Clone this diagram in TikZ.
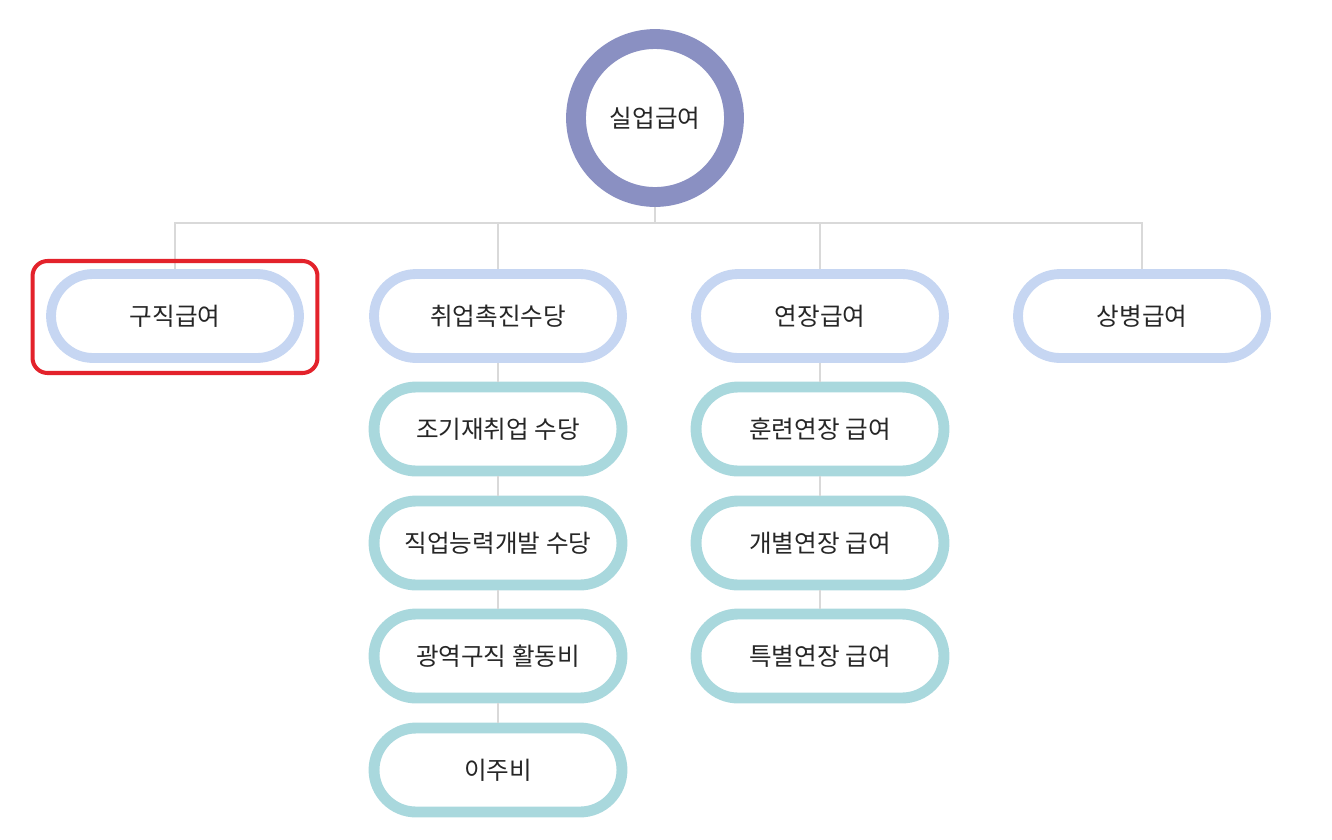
\documentclass[tikz,border=0pt]{standalone}
\usepackage{fontspec}
\setmainfont{Noto Sans CJK KR}
\usepackage{tikz}

\definecolor{ringblue}{HTML}{8A90C2}
\definecolor{topline}{HTML}{C6D6F2}
\definecolor{subline}{HTML}{A9D8DD}
\definecolor{linkgray}{HTML}{D9D9D9}
\definecolor{marked}{HTML}{E3222B}
\definecolor{txt}{HTML}{262626}

\tikzset{
    topbox/.style={draw=topline, line width=5.6pt, fill=white, rectangle,
        rounded corners=0.84cm, minimum width=4.96cm, minimum height=1.68cm,
        text=txt, font=\fontsize{14}{16}\selectfont},
    subbox/.style={topbox, draw=subline, line width=6.2pt},
    link/.style={draw=linkgray, line width=0.8pt}
}

\begin{document}
\begin{tikzpicture}[x=0.02cm, y=-0.02cm]
    \useasboundingbox (0,0) rectangle (1332,839);

    \node [circle, draw=ringblue, line width=11.3pt, fill=white,
           minimum size=3.16cm, text=txt, font=\fontsize{14}{16}\selectfont]
           (silup) at (655,118) {실업급여};

    \coordinate (hub) at (655,223);

    \node [topbox] (gujik) at (175,316) {구직급여};
    \node [topbox] (chwiup) at (498,316) {취업촉진수당};
    \node [topbox] (yeonjang) at (820,316) {연장급여};
    \node [topbox] (sangbyeong) at (1142,316) {상병급여};

    \node [subbox] (jogi) at (498,429) {조기재취업 수당};
    \node [subbox] (jikup) at (498,543) {직업능력개발 수당};
    \node [subbox] (gwangyeok) at (498,656) {광역구직 활동비};
    \node [subbox] (iju) at (498,770) {이주비};

    \node [subbox] (hunryeon) at (820,429) {훈련연장 급여};
    \node [subbox] (gaebyeol) at (820,543) {개별연장 급여};
    \node [subbox] (teukbyeol) at (820,656) {특별연장 급여};

    \draw [link] (silup) -- (hub);
    \draw [link] (gujik.north) |- (hub);
    \draw [link] (chwiup.north) |- (hub);
    \draw [link] (yeonjang.north) |- (hub);
    \draw [link] (sangbyeong.north) |- (hub);

    \draw [link] (chwiup) -- (jogi);
    \draw [link] (jogi) -- (jikup);
    \draw [link] (jikup) -- (gwangyeok);
    \draw [link] (gwangyeok) -- (iju);

    \draw [link] (yeonjang) -- (hunryeon);
    \draw [link] (hunryeon) -- (gaebyeol);
    \draw [link] (gaebyeol) -- (teukbyeol);

    % highlight round the first item
    \node [draw=marked, line width=2.3pt, rounded corners=0.3cm,
           minimum width=5.7cm, minimum height=2.24cm] (hilite) at (175,317) {};
\end{tikzpicture}
\end{document}
